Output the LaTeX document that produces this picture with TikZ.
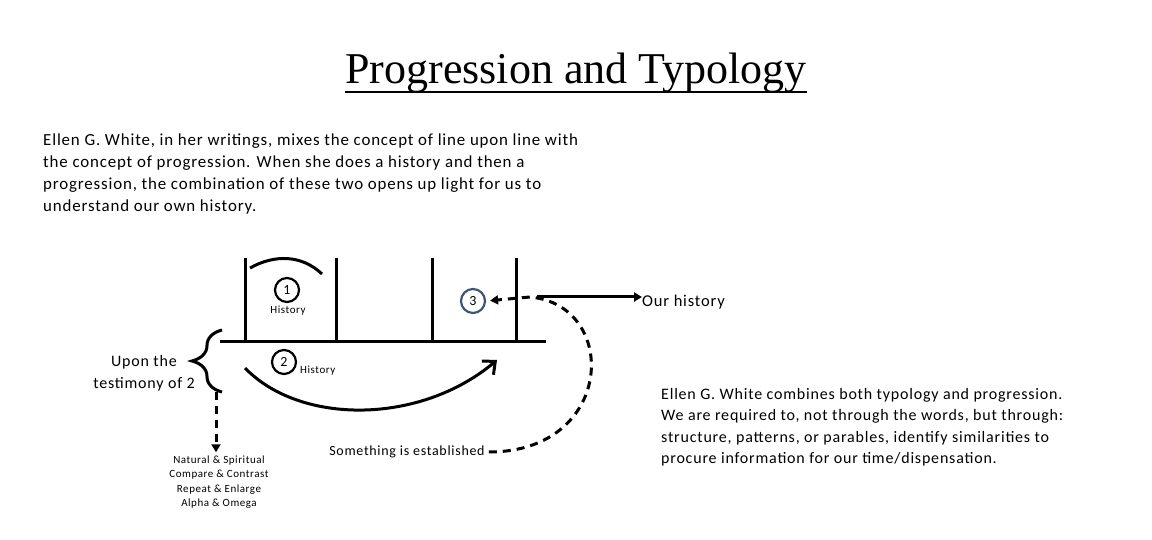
\documentclass[tikz,border=0pt]{standalone}
\usepackage{fontspec}
\setmainfont{Carlito}[LetterSpace=5]
\newfontfamily\titlefont{Liberation Serif}
\usetikzlibrary{arrows.meta,calc,decorations.pathreplacing}
\definecolor{circblue}{HTML}{3D5677}
\begin{document}
\begin{tikzpicture}[x=1pt,y=-1pt,
  frame/.style={line width=3pt},
  numcirc/.style={circle,draw,line width=2.2pt,minimum size=24pt,inner sep=0pt,font=\fontsize{14}{14}\selectfont},
  small/.style={font=\fontsize{11}{14.5}\selectfont,inner sep=0pt},
  body/.style={align=left,inner sep=0pt},
  dsh/.style={line width=3pt,dash pattern=on 8pt off 6pt},
  tri/.style={-{Triangle[length=8pt,width=9pt]}},
]
\useasboundingbox (0,0) rectangle (1152,540);

% title
\node[anchor=base,inner sep=0pt,font=\titlefont\fontsize{44}{48}\selectfont] (title) at (576,84) {Progression and Typology};
\draw[line width=2.5pt] ($(title.base west)+(0,8)$) -- ($(title.base east)+(0,8)$);

% intro paragraph
\node[body,anchor=north west,font=\fontsize{16.9}{22}\selectfont] (intro) at (43,134) {Ellen G. White, in her writings, mixes the concept of line upon line with\\
the concept of progression. When she does a history and then a\\
progression, the combination of these two opens up light for us to\\
understand our own history.};

% frame
\coordinate (bl) at (220,341);
\coordinate (br) at (546,341);
\coordinate (v1) at (245,258);
\coordinate (v2) at (336,258);
\coordinate (v3) at (432,258);
\coordinate (v4) at (516,258);
\draw[frame] (bl) -- (br);
\foreach \v in {v1,v2,v3,v4} \draw[frame] (\v) -- (\v |- bl);
\draw[frame] (250,268) .. controls (275,254) and (302,255) .. (322,274);

% circles
\node[numcirc] (c1) at (287,290) {1};
\node[small] (h1) at (288,311) {History};
\node[numcirc,draw=circblue] (c3) at (473,301) {3};
\node[numcirc] (c2) at (284,362) {2};
\node[small,anchor=west] (h2) at (300,371) {History};

% our history
\node[anchor=west,inner sep=0pt,font=\fontsize{16.5}{20}\selectfont] (our) at (642,302) {Our history};
\coordinate (os) at (537,297);
\draw[line width=3pt,tri] (os) -- (os -| our.west);

% something established
\node[inner sep=0pt,font=\fontsize{14}{18}\selectfont] (est) at (407,452) {Something is established};
\draw[dsh,tri,shorten >=4pt] ($(est.east)+(4,0)$) .. controls (615,452) and (620,305) .. (530,297) -- (c3.east);

% big curved arrow
\coordinate (cs) at (245,368);
\coordinate (ce) at (497,360);
\draw[line width=3pt,-{Straight Barb[length=10pt,width=18pt]}] (cs) .. controls (300,425) and (420,425) .. (ce);

% brace
\draw[line width=3pt,decorate,decoration={brace,amplitude=30pt}] (222,392) -- (222,330);
\node[inner sep=0pt,align=center,font=\fontsize{16}{22}\selectfont] (upon) at (144,373) {Upon the\\testimony of 2};

% list
\node[small,align=center] (list) at (219,482) {Natural \& Spiritual\\Compare \& Contrast\\Repeat \& Enlarge\\Alpha \& Omega};
\coordinate (bb) at (216,392);
\draw[dsh,tri] (bb) -- ($(bb |- list.north)+(0,-3)$);

% right paragraph
\node[body,anchor=north west,font=\fontsize{16}{21.5}\selectfont] (right) at (661,388) {Ellen G. White combines both typology and progression.\\
We are required to, not through the words, but through:\\
structure, patterns, or parables, identify similarities to\\
procure information for our time/dispensation.};
\end{tikzpicture}
\end{document}
